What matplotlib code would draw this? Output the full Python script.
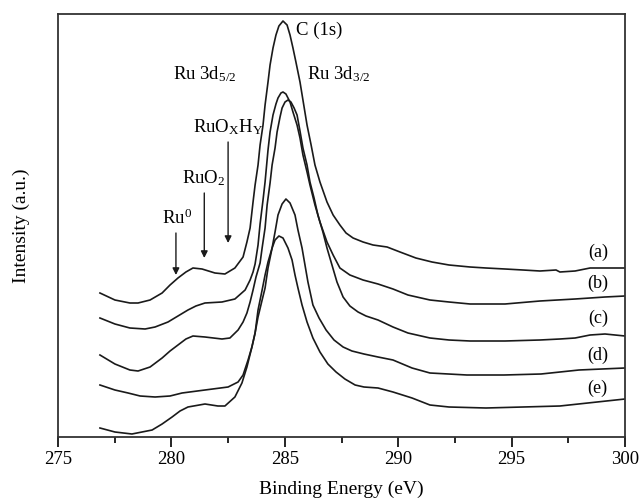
import matplotlib
matplotlib.use("Agg")
import matplotlib.pyplot as plt
from matplotlib.ticker import MultipleLocator

# XPS spectra, points (binding energy in eV, intensity a.u.)
be_a = [276.85, 277.51, 278.17, 278.53, 279.06, 279.59, 279.94, 280.29, 280.64, 280.95,
        281.35, 281.92, 282.36, 282.80, 283.16, 283.33, 283.47, 283.60, 283.69, 283.82,
        283.91, 284.04, 284.13, 284.26, 284.35, 284.48, 284.61, 284.74, 284.92, 285.10,
        285.23, 285.36, 285.49, 285.67, 285.80, 285.98, 286.16, 286.33, 286.55, 286.86,
        287.13, 287.43, 287.70, 288.01, 288.45, 288.89, 289.51, 290.08, 290.78, 291.49,
        292.24, 293.17, 293.87, 294.71, 295.50, 296.25, 296.96, 297.13, 297.80, 298.46,
        299.12, 300.00]
int_a = [144, 137, 134, 134, 137, 144, 152, 159, 165, 169,
         168, 164, 163, 169, 180, 195, 209, 235, 252, 272,
         292, 312, 332, 355, 372, 389, 402, 411, 416, 412,
         402, 389, 375, 355, 337, 312, 292, 272, 255, 235,
         222, 212, 204, 199, 195, 192, 190, 185, 179, 175,
         172, 170, 169, 168, 167, 166, 167, 165, 166, 169,
         169, 169]

be_b = [276.85, 277.51, 278.17, 278.84, 279.28, 279.85, 280.29, 280.73, 281.08, 281.48,
        282.23, 282.80, 283.25, 283.47, 283.60, 283.69, 283.82, 283.91, 284.04, 284.13,
        284.26, 284.35, 284.48, 284.61, 284.70, 284.83, 284.92, 285.05, 285.23, 285.36,
        285.54, 285.67, 285.80, 285.98, 286.11, 286.33, 286.55, 286.86, 287.13, 287.43,
        287.87, 288.45, 289.11, 289.77, 290.43, 291.40, 292.24, 293.17, 294.71, 296.25,
        297.80, 299.12, 300.00]
int_b = [119, 113, 109, 108, 110, 115, 121, 127, 131, 134,
         135, 138, 147, 157, 165, 173, 192, 213, 237, 255,
         287, 305, 322, 333, 339, 344, 345, 343, 335, 325,
         312, 299, 282, 265, 252, 232, 215, 195, 182, 169,
         162, 157, 153, 148, 142, 137, 135, 133, 133, 136,
         138, 140, 141]

be_c = [276.85, 277.51, 278.17, 278.53, 279.06, 279.59, 279.94, 280.29, 280.64, 280.95,
        281.48, 282.23, 282.58, 282.94, 283.16, 283.33, 283.47, 283.60, 283.73, 283.91,
        284.00, 284.13, 284.22, 284.35, 284.44, 284.57, 284.66, 284.79, 284.88, 285.01,
        285.14, 285.27, 285.41, 285.54, 285.67, 285.80, 285.98, 286.11, 286.29, 286.46,
        286.68, 286.86, 287.08, 287.30, 287.57, 287.87, 288.23, 288.58, 289.11, 289.77,
        290.43, 291.40, 292.24, 293.17, 294.71, 296.25, 297.13, 297.80, 298.46, 299.12,
        300.00]
int_c = [82, 73, 67, 66, 70, 79, 86, 92, 98, 101,
         100, 98, 99, 107, 115, 124, 135, 147, 160, 174,
         189, 209, 232, 254, 272, 289, 305, 320, 329, 335,
         337, 335, 329, 322, 306, 289, 272, 255, 239, 222,
         205, 189, 172, 155, 140, 131, 125, 121, 117, 110,
         104, 99, 97, 96, 96, 97, 98, 99, 102, 103,
         101]

be_d = [276.85, 277.51, 278.09, 278.62, 279.28, 279.94, 280.47, 281.48, 282.50, 282.94,
        283.16, 283.38, 283.55, 283.69, 283.82, 284.00, 284.13, 284.26, 284.44, 284.57,
        284.70, 284.88, 285.05, 285.23, 285.45, 285.58, 285.76, 285.89, 286.02, 286.24,
        286.51, 286.82, 287.17, 287.57, 287.96, 288.49, 289.11, 289.77, 290.61, 291.40,
        293.03, 294.67, 296.30, 297.97, 300.00]
int_d = [52, 47, 44, 41, 40, 41, 44, 47, 50, 55,
         62, 77, 90, 104, 120, 137, 149, 169, 189, 205,
         222, 233, 238, 234, 222, 207, 189, 172, 155, 132,
         119, 107, 97, 90, 86, 83, 80, 77, 69, 64,
         62, 62, 63, 67, 69]

be_e = [276.85, 277.51, 278.26, 279.15, 279.59, 280.03, 280.38, 280.73, 281.48, 282.05,
        282.36, 282.80, 283.11, 283.33, 283.55, 283.69, 283.82, 284.00, 284.13, 284.26,
        284.44, 284.57, 284.74, 284.92, 285.14, 285.32, 285.45, 285.58, 285.76, 285.98,
        286.24, 286.55, 286.90, 287.26, 287.65, 288.10, 288.49, 289.11, 289.77, 290.61,
        291.40, 292.24, 293.87, 295.50, 297.13, 298.77, 300.00]
int_e = [9, 5, 3, 7, 13, 20, 26, 30, 33, 31,
         31, 40, 54, 70, 90, 104, 127, 147, 162, 175,
         189, 197, 201, 199, 189, 177, 162, 149, 132, 115,
         99, 85, 73, 65, 58, 52, 50, 49, 45, 39,
         32, 30, 29, 30, 31, 35, 38]

spectra = [(be_a, int_a), (be_b, int_b), (be_c, int_c), (be_d, int_d), (be_e, int_e)]
curve_labels = ["(a)", "(b)", "(c)", "(d)", "(e)"]
label_y = [185, 154, 119, 82, 49]

# component markers: (label, label x, energy, arrow top, arrow tip)
markers = [(r"Ru$^{0}$", 279.59, 280.2, 204, 162),
           (r"RuO$_{2}$", 280.47, 281.45, 244, 179),
           (r"RuO$_{\mathrm{X}}$H$_{\mathrm{Y}}$", 280.95, 282.5, 295, 194)]

plt.rcParams["font.family"] = ["Liberation Serif", "DejaVu Serif"]
plt.rcParams["mathtext.fontset"] = "custom"
plt.rcParams["mathtext.rm"] = "Liberation Serif"
plt.rcParams["mathtext.it"] = "Liberation Serif:italic"

fig = plt.figure(figsize=(6.39, 5.04), dpi=100)
ax = fig.add_axes([58 / 639, 67 / 504, 567 / 639, 423 / 504])

for be, inten in spectra:
    ax.plot(be, inten, color="#1a1a1a", lw=1.2, solid_joinstyle="round")

for lab, y in zip(curve_labels, label_y):
    ax.text(298.8, y, lab, fontsize=13, ha="center", va="center")

fs = 13.5
ax.text(285.5, 407, "C (1s)", fontsize=fs, ha="left", va="center")
ax.text(280.07, 363, r"Ru 3d$_{5/2}$", fontsize=fs, ha="left", va="center")
ax.text(285.98, 363, r"Ru 3d$_{3/2}$", fontsize=fs, ha="left", va="center")

for lab, lx, e, top, tip in markers:
    ax.annotate("", xy=(e, tip), xytext=(e, top),
                arrowprops=dict(arrowstyle="-|>", color="#1a1a1a", lw=1.0,
                                mutation_scale=10, shrinkA=0, shrinkB=0))
    ax.text(lx, top + 15, lab, fontsize=fs, ha="left", va="center")

ax.set_xlim(275, 300)
ax.set_ylim(0, 423)
ax.xaxis.set_major_locator(MultipleLocator(5))
ax.xaxis.set_minor_locator(MultipleLocator(2.5))
ax.tick_params(axis="x", which="major", direction="out", length=7, width=1.2,
               labelsize=13.5, pad=3, top=False)
ax.tick_params(axis="x", which="minor", direction="out", length=4.5, width=1.2, top=False)
ax.tick_params(axis="y", left=False, labelleft=False)
for s in ax.spines.values():
    s.set_linewidth(1.3)
    s.set_color("#333333")

ax.set_xlabel("Binding Energy (eV)", fontsize=14, labelpad=9)
ax.set_ylabel("Intensity (a.u.)", fontsize=14)
ax.yaxis.set_label_coords(-0.05, 0.5)

fig.savefig("out.png", dpi=100)
